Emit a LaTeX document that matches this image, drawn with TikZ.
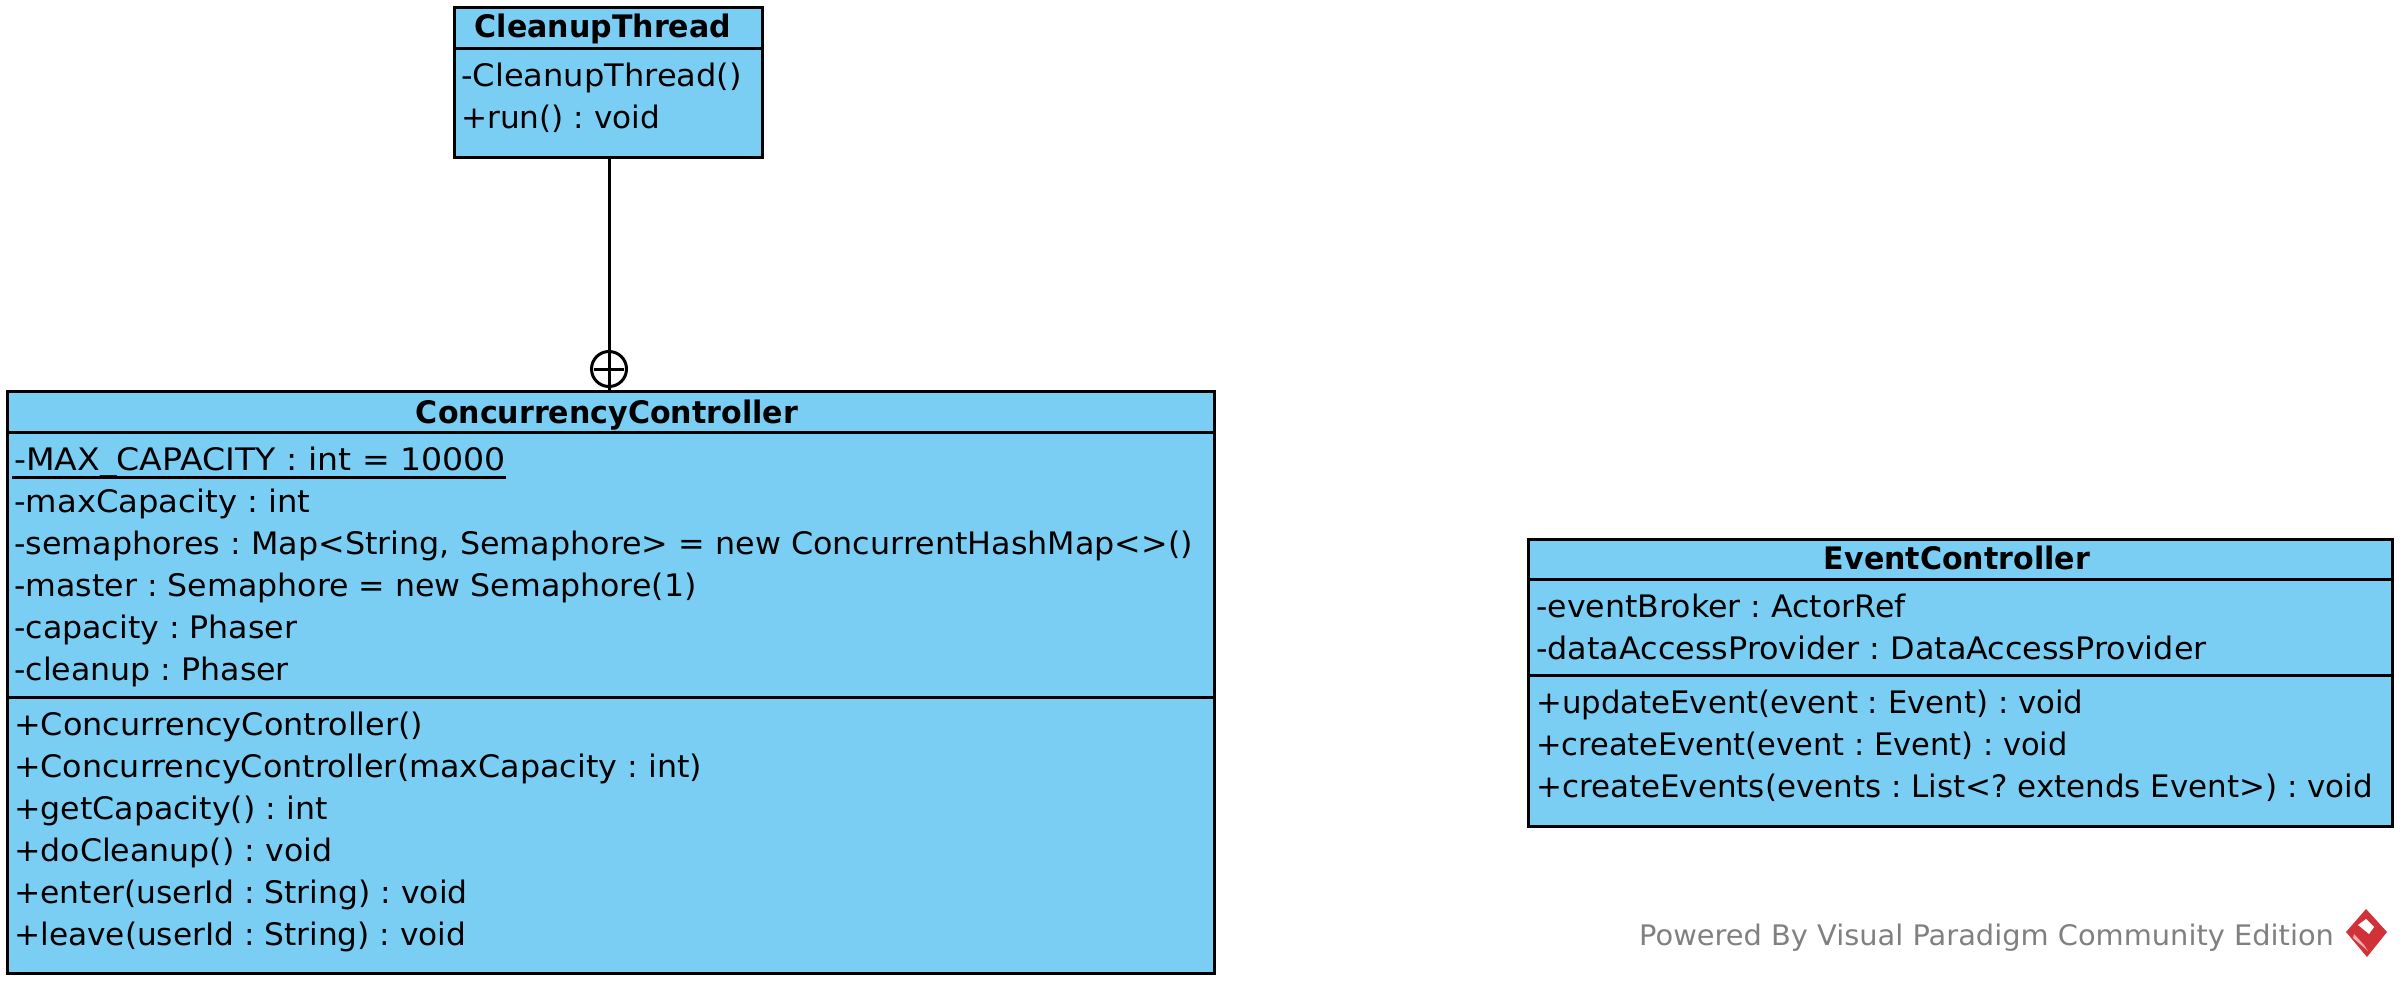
\documentclass[tikz,border=0pt]{standalone}
\usepackage{fontspec}
\setmainfont{DejaVu Sans}[FakeStretch=1.02,BoldFeatures={FakeStretch=0.97}]
\definecolor{umlblue}{RGB}{122,206,244}
\definecolor{wmgrey}{RGB}{128,128,128}
\definecolor{vpred}{RGB}{208,50,56}
\newcommand{\xfit}[2]{\scalebox{#1}[1]{#2}}
\tikzset{
  x=1pt,y=-1pt,
  classbox/.style={draw=black,line width=3pt,fill=umlblue,rectangle,inner sep=0pt,anchor=north west},
  sepline/.style={draw=black,line width=3pt},
  member/.style={anchor=base west,inner sep=0pt,font=\fontsize{31}{31}\selectfont,text=black},
  title/.style={anchor=base,inner sep=0pt,font=\fontsize{31}{31}\selectfont\bfseries,text=black},
  link/.style={draw=black,line width=3pt},
  nesting/.style={circle,draw=black,line width=3pt,minimum size=35pt,inner sep=0pt},
  brand/.style={anchor=base west,inner sep=0pt,font=\fontsize{28.3}{28.3}\selectfont,text=wmgrey}
}
\begin{document}
\frenchspacing
\begin{tikzpicture}
\useasboundingbox (0,0) rectangle (2403,984);
% CleanupThread
\node[classbox,minimum width=308pt,minimum height=150pt] (cleanup) at (453,6.5) {};
\draw[sepline] (cleanup.west |- 0,49) -- (cleanup.east |- 0,49);
\node[title] (cleanupT) at (603,38) {CleanupThread};
\node[member] (c1) at (461,87) {\xfit{1.015}{-CleanupThread()}};
\node[member] (c2) at (461,129) {\xfit{0.985}{+run() : void}};
% ConcurrencyController
\node[classbox,minimum width=1207pt,minimum height=582pt] (cc) at (5.5,390) {};
\draw[sepline] (cc.west |- 0,432) -- (cc.east |- 0,432);
\draw[sepline] (cc.west |- 0,697) -- (cc.east |- 0,697);
\node[title] (ccT) at (607,423) {ConcurrencyController};
\node[member] (a1) at (14,470) {\xfit{1.049}{-MAX\_CAPACITY : int = 10000}};
\draw[line width=3pt] (12,477.5) -- (506,477.5);
\node[member] (a2) at (14,512) {\xfit{1.02}{-maxCapacity : int}};
\node[member] (a3) at (14,554) {\xfit{1.005}{-semaphores : Map<String, Semaphore> = new ConcurrentHashMap<>()}};
\node[member] (a4) at (14,596) {-master : Semaphore = new Semaphore(1)};
\node[member] (a5) at (14,638) {-capacity : Phaser};
\node[member] (a6) at (14,680) {-cleanup : Phaser};
\node[member] (m1) at (14,735) {\xfit{1.008}{+ConcurrencyController()}};
\node[member] (m2) at (14,777) {\xfit{1.004}{+ConcurrencyController(maxCapacity : int)}};
\node[member] (m3) at (14,819) {+getCapacity() : int};
\node[member] (m4) at (14,861) {+doCleanup() : void};
\node[member] (m5) at (14,903) {\xfit{0.993}{+enter(userId : String) : void}};
\node[member] (m6) at (14,945) {\xfit{0.987}{+leave(userId : String) : void}};
% EventController
\node[classbox,minimum width=864pt,minimum height=287pt] (ec) at (1527,537.5) {};
\draw[sepline] (ec.west |- 0,579) -- (ec.east |- 0,579);
\draw[sepline] (ec.west |- 0,675) -- (ec.east |- 0,675);
\node[title] (ecT) at (1957,569) {EventController};
\node[member] (e1) at (1536,617) {-eventBroker : ActorRef};
\node[member] (e2) at (1536,659) {\xfit{1.007}{-dataAccessProvider : DataAccessProvider}};
\node[member] (e3) at (1536,713) {\xfit{0.973}{+updateEvent(event : Event) : void}};
\node[member] (e4) at (1536,755) {\xfit{0.964}{+createEvent(event : Event) : void}};
\node[member] (e5) at (1536,797) {\xfit{0.978}{+createEvents(events : List<? extends Event>) : void}};
% Nesting connector
\coordinate (joint) at (609,158);
\coordinate (jointb) at (609,390);
\node[nesting] (nest) at (609,369) {};
\draw[link] (joint) -- (jointb);
\draw[link] ([xshift=-15pt]nest.center) -- ([xshift=15pt]nest.center);
% Watermark
\node[brand] (wm) at (1639,945) {Powered By Visual Paradigm Community Edition};
\fill[vpred] (2366,909) -- (2387,932) -- (2367,957) -- (2346,932) -- cycle;
\fill[white] (2366,919) -- (2374,927) -- (2369,934) -- (2358,925) -- cycle;
\fill[white!60!vpred] (2353,938) -- (2368,951) -- (2364,945) -- (2354,934) -- cycle;
\end{tikzpicture}
\end{document}
